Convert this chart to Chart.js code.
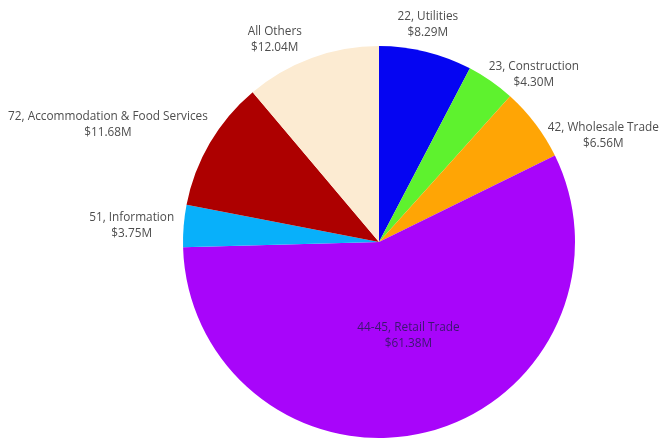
<!DOCTYPE html>
<html>
<head>
<meta charset="utf-8">
<script src="https://cdn.jsdelivr.net/npm/chart.js@4.4.1/dist/chart.umd.min.js"></script>
<style>
    html, body { margin: 0; padding: 0; background: #ffffff; }
    #wrap { width: 660px; height: 441px; }
</style>
</head>
<body>
<div id="wrap"><canvas id="myChart" width="660" height="441"></canvas></div>
<script>
const categories = [
    '22, Utilities',
    '23, Construction',
    '42, Wholesale Trade',
    '44-45, Retail Trade',
    '51, Information',
    '72, Accommodation & Food Services',
    'All Others'
];

// sales, millions of dollars
const sales = [8.29, 4.30, 6.56, 61.38, 3.75, 11.68, 12.04];

const sliceColors = [
    '#0505f2',
    '#5ef22e',
    '#ffa505',
    '#a805fa',
    '#08b0fa',
    '#ad0000',
    '#fcebd2'
];

// where each label sits relative to the rim point at the middle of its slice
const labelNudge = [
    [2, -27],
    [43, -6],
    [68, 12],
    [0, 0],
    [-52, 0],
    [-102, -18],
    [-37, -18]
];

function money(v) {
    return '$' + v.toFixed(2) + 'M';
}

const sliceLabels = {
    id: 'sliceLabels',
    afterDatasetsDraw(chart) {
        const c = chart.ctx;
        const arcs = chart.getDatasetMeta(0).data;

        c.save();
        c.font = '11.8px "Open Sans"';
        c.textAlign = 'center';
        c.textBaseline = 'middle';

        arcs.forEach((arc, i) => {
            const mid = (arc.startAngle + arc.endAngle) / 2;
            let x, y;

            if (i === 3) {
                // the big slice carries its label inside
                x = arc.x + Math.cos(mid) * arc.outerRadius * 0.5 + 6;
                y = arc.y + Math.sin(mid) * arc.outerRadius * 0.5 - 2;
                c.fillStyle = '#3c1670';
            } else {
                x = arc.x + Math.cos(mid) * arc.outerRadius + labelNudge[i][0];
                y = arc.y + Math.sin(mid) * arc.outerRadius + labelNudge[i][1];
                c.fillStyle = '#4d4d4d';
            }

            c.fillText(categories[i], x, y - 8);
            c.fillText(money(sales[i]), x, y + 8);
        });

        c.restore();
    }
};

const ctx = document.getElementById('myChart');

if (ctx) {
    new Chart(ctx, {
        type: 'pie',

        data: {
            labels: categories,

            datasets: [{
                data: sales,
                backgroundColor: sliceColors,
                borderWidth: 0
            }]
        },

        options: {
            responsive: false,
            animation: false,

            layout: {
                padding: { top: 46, bottom: 3, left: 183, right: 85 }
            },

            plugins: {
                legend: { display: false },
                tooltip: { enabled: false }
            }
        },

        plugins: [sliceLabels]
    });
}
</script>
</body>
</html>
